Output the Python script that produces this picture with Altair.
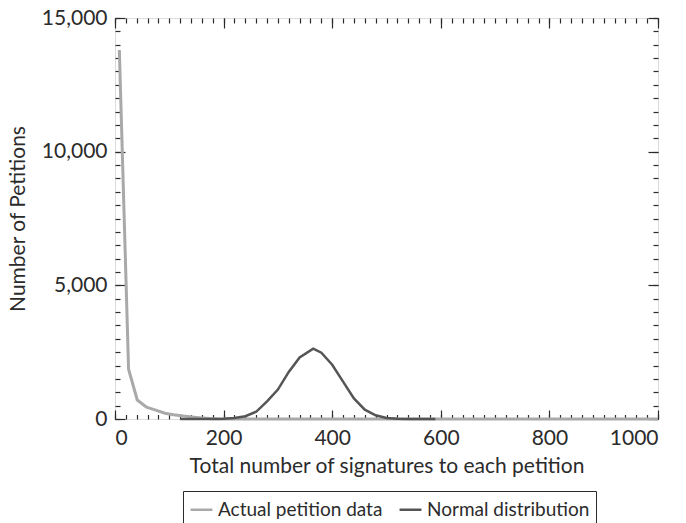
import altair as alt
import pandas as pd

# Observed petition counts by total signatures
actual_x = [8, 25, 41, 58, 75, 92, 108, 126, 145, 160, 175, 192, 220, 1000]
actual_y = [13800, 1860, 710, 440, 330, 215, 160, 112, 70, 40, 15, 0, 0, 0]

# Normal distribution for comparison
normal_x = [120, 140, 160, 180, 200, 220, 240, 260, 280, 300, 320, 340, 365,
            380, 400, 420, 440, 460, 480, 500, 520, 540, 560, 590]
normal_y = [0, 0, 1, 3, 10, 35, 105, 270, 660, 1100, 1760, 2300, 2630,
            2480, 2030, 1400, 770, 350, 140, 35, 10, 3, 0, 0]

series_names = ["Actual petition data", "Normal distribution"]
series_colors = ["#a9a9a9", "#555555"]

x_major = [0, 200, 400, 600, 800, 1000]
x_minor = list(range(0, 1001, 20))
y_major = [0, 5000, 10000, 15000]
y_minor = list(range(0, 15001, 500))

W, H = 543, 401
FONT = "Lato"
FS = 21
INK = "#2b2b2b"

df = pd.concat([
    pd.DataFrame({"x": actual_x, "y": actual_y, "series": series_names[0]}),
    pd.DataFrame({"x": normal_x, "y": normal_y, "series": series_names[1]}),
])

xs = alt.Scale(domain=[0, 1000], nice=False, zero=False)
ys = alt.Scale(domain=[0, 15000], nice=False)
color = alt.Color(
    "series:N",
    scale=alt.Scale(domain=series_names, range=series_colors),
    legend=alt.Legend(
        orient="none", legendX=68, legendY=473, direction="horizontal",
        title=None, strokeColor=INK, padding=6, symbolType="stroke",
        symbolStrokeWidth=2.5, symbolSize=480, labelFontSize=19,
        labelFont=FONT, labelColor=INK, labelOffset=4, columnPadding=11,
        labelLimit=400, symbolOpacity=1,
    ),
)


def tick_axis(orient, values, size, offset):
    return alt.Axis(orient=orient, values=values, tickSize=size, offset=offset,
                    labels=False, domain=False, title=None, grid=False,
                    tickColor=INK, tickWidth=1.2)


base = alt.Chart(df)

gray = base.transform_filter(alt.datum.series == series_names[0]).mark_line(
    strokeWidth=3
).encode(
    x=alt.X("x:Q", scale=xs, axis=alt.Axis(
        orient="bottom", values=x_major, tickSize=0, domain=False, grid=False,
        labelExpr="format(datum.value, 'd')",
        labelFontSize=FS, labelFont=FONT, labelColor=INK, labelPadding=8,
        title="Total number of signatures to each petition", titleFontSize=FS,
        titleFont=FONT, titleFontWeight="normal", titleColor=INK, titlePadding=7,
    )),
    y=alt.Y("y:Q", scale=ys, axis=alt.Axis(
        orient="left", values=y_major, tickSize=0, domain=False, grid=False,
        labelExpr="format(datum.value, ',')",
        labelFontSize=FS, labelFont=FONT, labelColor=INK,
        labelPadding=8, title="Number of Petitions", titleFontSize=FS,
        titleFont=FONT, titleFontWeight="normal", titleColor=INK, titlePadding=13,
    )),
    color=color,
)

dark = base.transform_filter(alt.datum.series == series_names[1]).mark_line(
    strokeWidth=2.5
).encode(
    x=alt.X("x:Q", scale=xs, axis=tick_axis("top", x_major, 9, -H)),
    y=alt.Y("y:Q", scale=ys, axis=tick_axis("right", y_major, 10, -W)),
    color=color,
)

# Inward ticks on all four sides
ghost = base.mark_line(opacity=0)
t1 = ghost.encode(
    x=alt.X("x:Q", scale=xs, axis=tick_axis("top", x_minor, 4.5, -H)),
    y=alt.Y("y:Q", scale=ys, axis=tick_axis("right", y_minor, 5, -W)),
)
t2 = ghost.encode(
    x=alt.X("x:Q", scale=xs, axis=tick_axis("bottom", x_major, 10, -H)),
    y=alt.Y("y:Q", scale=ys, axis=tick_axis("left", y_major, 10, -W)),
)
t3 = ghost.encode(
    x=alt.X("x:Q", scale=xs, axis=tick_axis("bottom", x_minor, 5, -H)),
    y=alt.Y("y:Q", scale=ys, axis=tick_axis("left", y_minor, 5, -W)),
)

chart = alt.layer(gray, dark, t1, t2, t3).resolve_axis(
    x="independent", y="independent"
).properties(
    width=W, height=H,
    autosize=alt.AutoSizeParams(type="none"),
    padding={"left": 115, "top": 18, "right": 28, "bottom": 104},
).configure_view(
    stroke=INK, strokeWidth=1.2
).configure(background="white")

chart.save("out.html", embed_options={"renderer": "svg", "actions": False})
